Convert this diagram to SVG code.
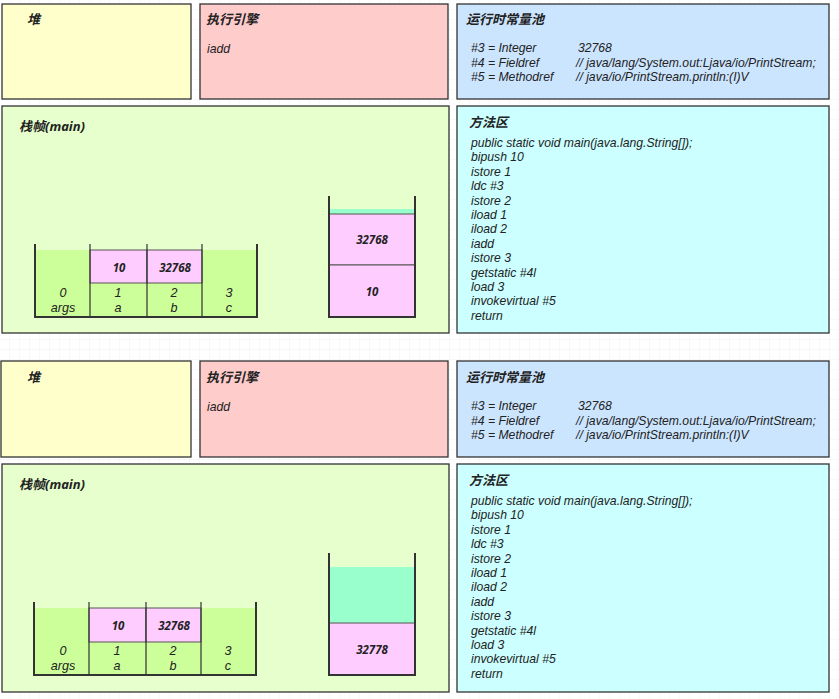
<svg xmlns="http://www.w3.org/2000/svg" width="839" height="699" viewBox="0 0 839 699">
<defs>
<pattern id="grid" width="10" height="10" patternUnits="userSpaceOnUse">
<path d="M10 0V10M0 10H10" fill="none" stroke="#f0f0f0" stroke-width="1"/>
</pattern>
</defs>
<style>
.box{stroke:#333;stroke-width:1.3}
.heap{fill:#FFFFCC}.exe{fill:#FFCCCC}.pool{fill:#CCE5FF}.frame{fill:#E6FFCC}.meth{fill:#CCFFFF}
.green{fill:#CCFF99}.pink{fill:#FFCCFF;stroke:#555;stroke-width:1}.teal{fill:#99FFCC}
.wall{stroke:#333;stroke-width:2;fill:none}
.div{stroke:#333;stroke-width:1.2;fill:none}
.t{font-family:"Noto Sans","Noto Sans CJK SC",sans-serif;font-weight:bold;font-style:italic;font-size:13px;fill:#222}
.b{font-family:"Liberation Sans",Arial,sans-serif;font-style:italic;font-size:12.2px;fill:#222}
.v{font-family:"Noto Sans",sans-serif;font-style:italic;font-weight:bold;font-size:11.5px;fill:#222;text-anchor:middle}
.c{font-family:"Liberation Sans",Arial,sans-serif;font-style:italic;font-size:12.6px;fill:#222;text-anchor:middle}
</style>
<rect width="839" height="699" fill="#fff"/>
<rect width="839" height="699" fill="url(#grid)"/>
<g id="connectors"/>

<g id="panel1">
<g id="heap1"><rect class="box heap" x="2" y="4" width="189" height="95"/><text class="t" x="27" y="24">堆</text></g>
<g id="engine1"><rect class="box exe" x="200" y="4" width="248" height="95"/><text class="t" x="206" y="24">执行引擎</text><text class="b" x="207" y="53">iadd</text></g>
<g id="pool1"><rect class="box pool" x="457" y="4" width="372" height="95"/><text class="t" x="466" y="24">运行时常量池</text>
<text class="b" y="52"><tspan x="471">#3 = Integer</tspan><tspan x="471" dy="14.5">#4 = Fieldref</tspan><tspan x="471" dy="14.5">#5 = Methodref</tspan></text>
<text class="b" y="52"><tspan x="578">32768</tspan><tspan x="576" dy="14.5">// java/lang/System.out:Ljava/io/PrintStream;</tspan><tspan x="576" dy="14.5">// java/io/PrintStream.println:(I)V</tspan></text></g>
<g id="frame1"><rect class="box frame" x="2" y="106" width="447" height="227"/><text class="t" x="19" y="131">栈帧(main)</text>
<g id="locals1">
<rect class="green" x="35" y="250" width="222" height="67"/>
<rect class="pink" x="90" y="250" width="57" height="33"/>
<rect class="pink" x="147" y="250" width="55" height="33"/>
<path class="wall" d="M35 244V317H257V244"/>
<path class="div" d="M90 244V317M147 244V317M202 244V317"/>
<text class="v" x="119" y="272">10</text><text class="v" x="175" y="272">32768</text>
<text class="c" y="297"><tspan x="63">0</tspan><tspan x="63" dy="15">args</tspan></text>
<text class="c" y="297"><tspan x="118">1</tspan><tspan x="118" dy="15">a</tspan></text>
<text class="c" y="297"><tspan x="174">2</tspan><tspan x="174" dy="15">b</tspan></text>
<text class="c" y="297"><tspan x="229">3</tspan><tspan x="229" dy="15">c</tspan></text>
</g>
<g id="opstack1">
<rect class="teal" x="329" y="209" width="86" height="5"/>
<rect class="pink" x="329" y="214" width="86" height="51"/>
<rect class="pink" x="329" y="265" width="86" height="52"/>
<path class="wall" d="M329 196V317H415V196"/>
<text class="v" x="372" y="244">32768</text><text class="v" x="372" y="296">10</text>
</g></g>
<g id="method1"><rect class="box meth" x="457" y="106" width="372" height="227"/><text class="t" x="469" y="127">方法区</text>
<text class="b" y="147"><tspan x="471">public static void main(java.lang.String[]);</tspan><tspan x="471" dy="14.4">bipush 10</tspan><tspan x="471" dy="14.4">istore 1</tspan><tspan x="471" dy="14.4">ldc #3</tspan><tspan x="471" dy="14.4">istore 2</tspan><tspan x="471" dy="14.4">iload 1</tspan><tspan x="471" dy="14.4">iload 2</tspan><tspan x="471" dy="14.4">iadd</tspan><tspan x="471" dy="14.4">istore 3</tspan><tspan x="471" dy="14.4">getstatic #4l</tspan><tspan x="471" dy="14.4">load 3</tspan><tspan x="471" dy="14.4">invokevirtual #5</tspan><tspan x="471" dy="14.4">return</tspan></text></g>
</g>

<g id="panel2" transform="translate(0,358)">
<g id="heap2"><rect class="box heap" x="1" y="3" width="190" height="96"/><text class="t" x="27" y="24">堆</text></g>
<g id="engine2"><rect class="box exe" x="200" y="3" width="248" height="96"/><text class="t" x="206" y="24">执行引擎</text><text class="b" x="207" y="53">iadd</text></g>
<g id="pool2"><rect class="box pool" x="457" y="3" width="372" height="96"/><text class="t" x="466" y="24">运行时常量池</text>
<text class="b" y="52"><tspan x="471">#3 = Integer</tspan><tspan x="471" dy="14.5">#4 = Fieldref</tspan><tspan x="471" dy="14.5">#5 = Methodref</tspan></text>
<text class="b" y="52"><tspan x="578">32768</tspan><tspan x="576" dy="14.5">// java/lang/System.out:Ljava/io/PrintStream;</tspan><tspan x="576" dy="14.5">// java/io/PrintStream.println:(I)V</tspan></text></g>
<g id="frame2"><rect class="box frame" x="2" y="106" width="447" height="228"/><text class="t" x="19" y="131">栈帧(main)</text>
<g id="locals2">
<rect class="green" x="34" y="250" width="222" height="67"/>
<rect class="pink" x="89" y="250" width="57" height="34"/>
<rect class="pink" x="146" y="250" width="55" height="34"/>
<path class="wall" d="M34 244V317H256V244"/>
<path class="div" d="M89 244V317M146 244V317M201 244V317"/>
<text class="v" x="118" y="272">10</text><text class="v" x="174" y="272">32768</text>
<text class="c" y="297"><tspan x="63">0</tspan><tspan x="63" dy="15">args</tspan></text>
<text class="c" y="297"><tspan x="117">1</tspan><tspan x="117" dy="15">a</tspan></text>
<text class="c" y="297"><tspan x="173">2</tspan><tspan x="173" dy="15">b</tspan></text>
<text class="c" y="297"><tspan x="228">3</tspan><tspan x="228" dy="15">c</tspan></text>
</g>
<g id="opstack2">
<rect class="teal" x="329" y="209" width="86" height="56"/>
<rect class="pink" x="329" y="265" width="86" height="52"/>
<path class="wall" d="M329 195V317H415V195"/>
<text class="v" x="372" y="296">32778</text>
</g></g>
<g id="method2"><rect class="box meth" x="457" y="106" width="372" height="228"/><text class="t" x="469" y="127">方法区</text>
<text class="b" y="147"><tspan x="471">public static void main(java.lang.String[]);</tspan><tspan x="471" dy="14.4">bipush 10</tspan><tspan x="471" dy="14.4">istore 1</tspan><tspan x="471" dy="14.4">ldc #3</tspan><tspan x="471" dy="14.4">istore 2</tspan><tspan x="471" dy="14.4">iload 1</tspan><tspan x="471" dy="14.4">iload 2</tspan><tspan x="471" dy="14.4">iadd</tspan><tspan x="471" dy="14.4">istore 3</tspan><tspan x="471" dy="14.4">getstatic #4l</tspan><tspan x="471" dy="14.4">load 3</tspan><tspan x="471" dy="14.4">invokevirtual #5</tspan><tspan x="471" dy="14.4">return</tspan></text></g>
</g>
</svg>
